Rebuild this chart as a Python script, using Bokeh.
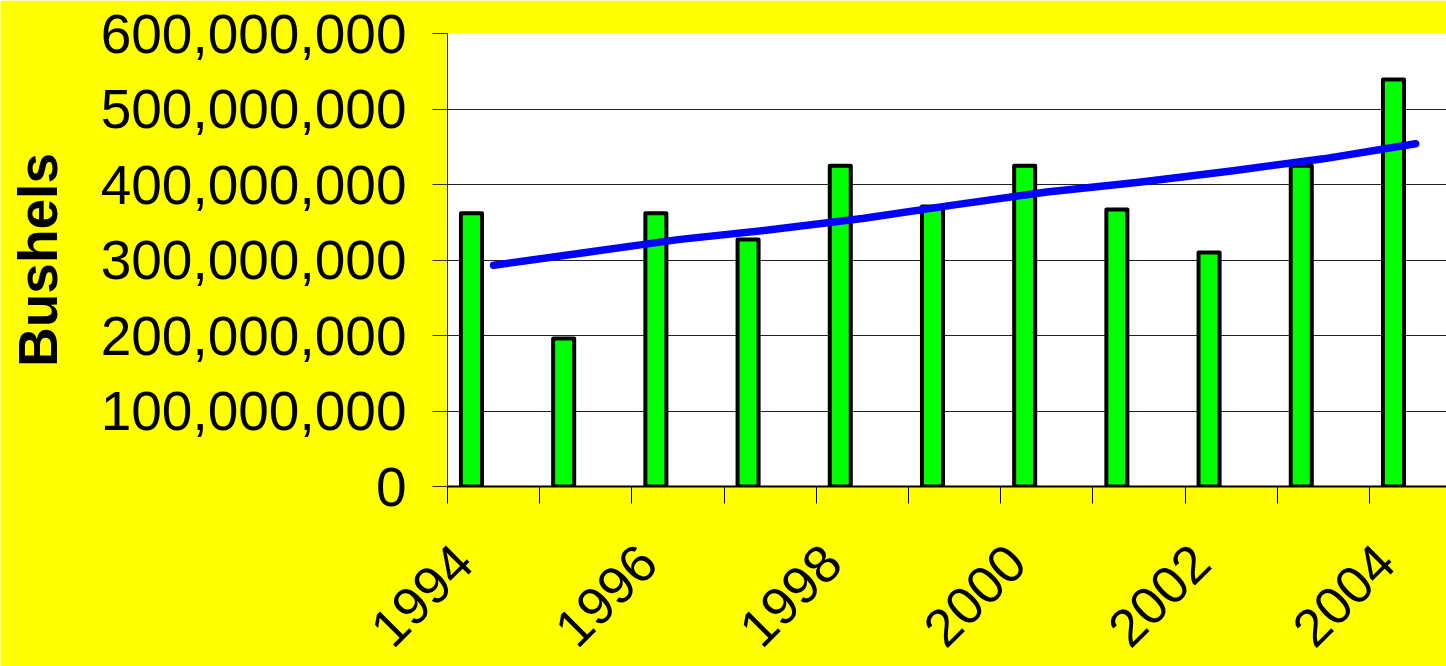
import math

from bokeh.plotting import figure
from bokeh.models import Range1d, FixedTicker, NumeralTickFormatter, CustomJSTickFormatter
from bokeh.embed import file_html
from bokeh.resources import INLINE

# Annual production (bushels) and the fitted trend
years = [1994, 1995, 1996, 1997, 1998, 1999, 2000, 2001, 2002, 2003, 2004]
bushels = [362e6, 196e6, 362e6, 327e6, 425e6, 371e6, 425e6, 367e6, 310e6, 425e6, 539e6]
trend = [293e6, 310e6, 327e6, 340e6, 355e6, 373e6, 390e6, 403e6, 418e6, 434e6, 454e6]
label_years = [1994, 1996, 1998, 2000, 2002, 2004]
y_ticks = [0, 100e6, 200e6, 300e6, 400e6, 500e6, 600e6]

FONT = "Liberation Sans"
BAR_SHIFT = -0.24      # bars sit left of the category centre
BAR_WIDTH = 0.228
LABEL_SHIFT = -0.33    # where the rotated year labels are anchored

p = figure(
    width=1446, height=666,
    x_range=Range1d(1993.5, 2004.335), y_range=Range1d(0, 600e6),
    output_backend="svg", toolbar_location=None,
    min_border_left=447, min_border_right=0, min_border_top=33, min_border_bottom=180,
)
p.background_fill_color = "white"
p.border_fill_color = "#FFFF00"
p.outline_line_color = None

bar_x = [y + BAR_SHIFT for y in years]
p.vbar(x=bar_x, top=bushels, bottom=0, width=BAR_WIDTH,
       fill_color="#00FF00", line_color="black", line_width=4, line_join="round")
p.line(years, trend, line_color="#0000FF", line_width=7.5, line_cap="round", line_join="round")

# grid
p.xgrid.grid_line_color = None
p.ygrid.ticker = FixedTicker(ticks=y_ticks[1:-1])
p.ygrid.grid_line_color = "#222222"
p.ygrid.grid_line_width = 1

# y axis
ya = p.yaxis[0]
ya.ticker = FixedTicker(ticks=y_ticks)
ya.formatter = NumeralTickFormatter(format="0,0")
ya.major_label_text_font = FONT
ya.major_label_text_font_size = "55px"
ya.major_label_text_color = "black"
ya.major_label_standoff = 26
ya.major_tick_out = 15
ya.major_tick_in = 0
ya.minor_tick_line_color = None
ya.axis_line_color = "#333333"
ya.major_tick_line_color = "#333333"
ya.axis_label = "Bushels"
ya.axis_label_text_font = FONT
ya.axis_label_text_font_style = "bold"
ya.axis_label_text_font_size = "55px"
ya.axis_label_text_color = "black"
ya.axis_label_standoff = 29

# x axis: boundary ticks as minor ticks, year labels every other year
xa = p.xaxis[0]
xa.ticker = FixedTicker(
    ticks=[y + LABEL_SHIFT for y in label_years],
    minor_ticks=[y - 0.5 for y in years] + [years[-1] + 0.5],
)
xa.formatter = CustomJSTickFormatter(code="return String(Math.round(tick - (%f)));" % LABEL_SHIFT)
xa.major_label_orientation = math.pi / 4
xa.major_label_text_font = FONT
xa.major_label_text_font_size = "53px"
xa.major_label_text_color = "black"
xa.major_label_standoff = 50
xa.major_tick_line_color = None
xa.major_tick_out = 0
xa.major_tick_in = 0
xa.minor_tick_out = 17
xa.minor_tick_in = 0
xa.minor_tick_line_color = "black"
xa.axis_line_color = "black"
xa.axis_line_width = 2

open("out.html", "w").write(file_html(p, INLINE))
